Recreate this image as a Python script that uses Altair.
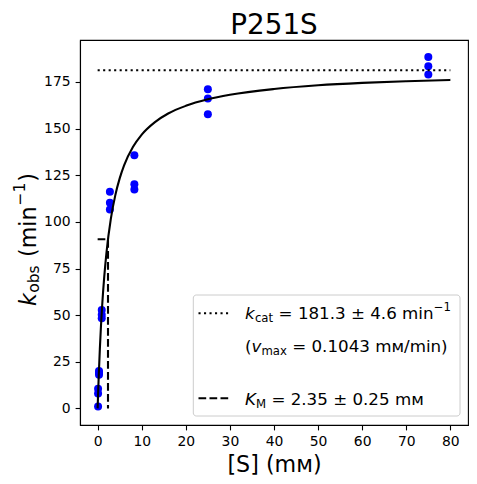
import altair as alt
import pandas as pd

FONT = "DejaVu Sans"

# ---- data ----
S_mM = [0.1, 0.1, 0.1, 0.31, 0.31, 0.31, 0.93, 0.93, 0.93,
        2.78, 2.78, 2.78, 8.33, 8.33, 8.33, 25, 25, 25, 75, 75, 75]
k_obs = [1.0, 8.0, 10.5, 18.0, 19.0, 20.0, 48.3, 50.2, 52.7,
         106.6, 110.2, 116.1, 117.4, 120.2, 135.7, 157.7, 166.1, 171.1,
         179.0, 183.4, 188.4]

# fitted Michaelis-Menten curve (kcat = 181.3, KM = 2.35)
fit_S = [0, 0.1, 0.25, 0.5, 0.75, 1, 1.5, 2, 3, 4, 5, 6, 8, 10, 13, 16,
         20, 25, 30, 40, 50, 60, 70, 80]
fit_k = [0, 7.4, 17.4, 31.8, 43.9, 54.1, 70.6, 83.4, 101.7, 114.2, 123.3,
         130.3, 140.1, 146.8, 153.5, 158.1, 162.2, 165.7, 168.1, 171.2,
         173.2, 174.5, 175.4, 176.1]

kcat_S = [0, 80]
kcat_k = [181.3, 181.3]

km_S = [0, 2.35, 2.35]
km_k = [90.65, 90.65, 0]
km_order = [0, 1, 2]

x_ticks = [0, 10, 20, 30, 40, 50, 60, 70, 80]
y_ticks = [0, 25, 50, 75, 100, 125, 150, 175]

pts = pd.DataFrame({"S": S_mM, "k": k_obs})
fit = pd.DataFrame({"S": fit_S, "k": fit_k})
kc = pd.DataFrame({"S": kcat_S, "k": kcat_k})
km = pd.DataFrame({"S": km_S, "k": km_k, "o": km_order})
one = pd.DataFrame({"a": [0]})

W, H = 388, 385

xenc = alt.X("S:Q", scale=alt.Scale(domain=[-4, 84], nice=False, zero=False),
             axis=alt.Axis(values=x_ticks, title="[S] (mм)", titleFontSize=22.2,
                           titleFont=FONT, titleFontWeight="normal", titleColor="black",
                           titleBaseline="alphabetic", titleX=W / 2, titleY=46.7))
yenc = alt.Y("k:Q", scale=alt.Scale(domain=[-8.9, 197.5], nice=False, zero=False),
             axis=alt.Axis(values=y_ticks, title=None))

points = alt.Chart(pts).mark_circle(size=64, color="#0000ff", opacity=1).encode(x=xenc, y=yenc)
curve = alt.Chart(fit).mark_line(color="black", strokeWidth=2.1, interpolate="monotone").encode(x=xenc, y=yenc)
kline = alt.Chart(kc).mark_line(color="black", strokeWidth=2.1, strokeDash=[2.1, 3.4]).encode(x=xenc, y=yenc)
mline = alt.Chart(km).mark_line(color="black", strokeWidth=2.1, strokeDash=[7.7, 3.3]).encode(
    x=xenc, y=yenc, order="o:Q")


def txt(s, x, y, size, italic=False, dx=0, dy=0, angle=0, align="left"):
    props = dict(text=s, align=align, baseline="alphabetic", font=FONT, fontSize=size,
                 fontStyle="italic" if italic else "normal", dx=dx, dy=dy, color="black")
    if angle:
        props["angle"] = angle
    return alt.Chart(one).mark_text(**props).encode(x=alt.value(x), y=alt.value(y))


# legend frame and handles
frame = alt.Chart(one).mark_rect(fill="white", fillOpacity=0.8, stroke="#cccccc",
                                 strokeWidth=1, cornerRadius=3).encode(
    x=alt.value(113.3), x2=alt.value(380), y=alt.value(255), y2=alt.value(376))
h1 = alt.Chart(one).mark_rule(color="black", strokeWidth=2.1, strokeDash=[2.1, 3.4]).encode(
    x=alt.value(118.5), x2=alt.value(149), y=alt.value(273.3))
h2 = alt.Chart(one).mark_rule(color="black", strokeWidth=2.1, strokeDash=[7.7, 3.3]).encode(
    x=alt.value(118.5), x2=alt.value(148.3), y=alt.value(358.3))

LF, LS = 16.7, 11.7
texts = [
    txt("k", 165, 279, LF, italic=True),
    txt("cat", 165, 279, LS, dx=9.9, dy=2.5),
    txt("= 181.3 ± 4.6 min", 165, 279, LF, dx=33.6),
    txt("−1", 165, 279, LS, dx=188.7, dy=-8),
    txt("(", 165, 312.3, LF),
    txt("v", 165, 312.3, LF, italic=True, dx=6.5),
    txt("max", 165, 312.3, LS, dx=16.4, dy=2.5),
    txt("= 0.1043 mм/min)", 165, 312.3, LF, dx=47.2),
    txt("K", 165, 365, LF, italic=True),
    txt("M", 165, 365, LS, dx=11.0, dy=2.5),
    txt("= 2.35 ± 0.25 mм", 165, 365, LF, dx=26.4),
]

# y axis title (rotated)
YF, YS = 22.2, 15.5
ytitle = [
    txt("k", -44, 266, YF, italic=True, angle=270),
    txt("obs", -44, 266, YS, dx=13.3, dy=3, angle=270),
    txt("(min", -44, 266, YF, dx=49, angle=270),
    txt("−1", -44, 266, YS, dx=100.5, dy=-11, angle=270),
    txt(")", -44, 266, YF, dx=124.3, angle=270),
]

# chart title
title = txt("P251S", W / 2, -6.5, 27.8, align="center")

chart = alt.layer(points, curve, kline, mline, frame, h1, h2, *texts, *ytitle, title).properties(
    width=W, height=H,
    autosize=alt.AutoSizeParams(type="none"),
    padding={"left": 72, "top": 32, "right": 1, "bottom": 51},
).configure_view(stroke="black", strokeWidth=1.1).configure_axis(
    grid=False, domainColor="black", domainWidth=1.1, tickColor="black", tickWidth=1.1,
    tickSize=4.9, labelFont=FONT, labelFontSize=13.9, labelColor="black", labelPadding=5,
).configure_axisX(labelFlush=False).configure_axisY(labelFlush=False)

chart.save("out.html", embed_options={"renderer": "svg", "actions": False})
